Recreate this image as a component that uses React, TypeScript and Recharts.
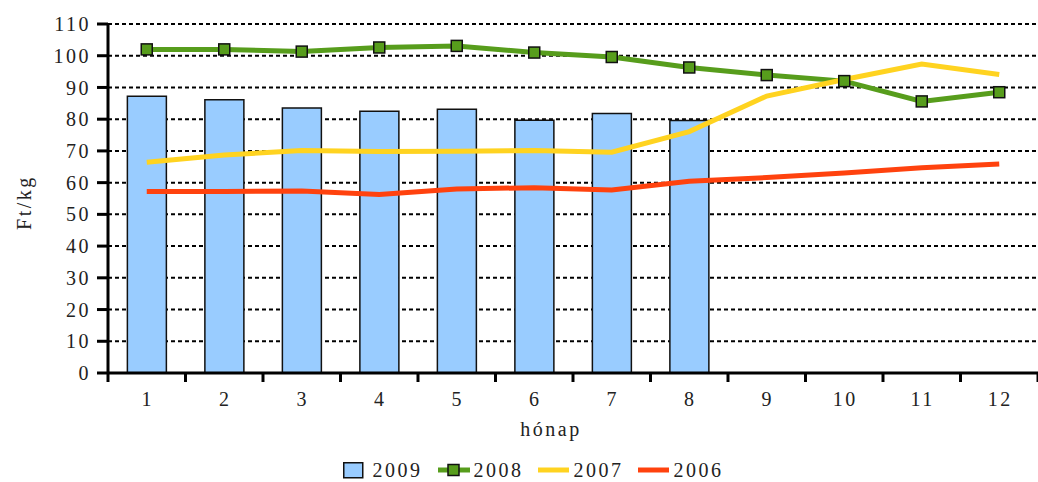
import React from 'react';
import { ComposedChart, Bar, Line, XAxis, YAxis, CartesianGrid, Legend } from 'recharts';

const months = ['1', '2', '3', '4', '5', '6', '7', '8', '9', '10', '11', '12'];
const s2009 = [87.2, 86.1, 83.5, 82.5, 83.1, 79.7, 81.8, 79.6, null, null, null, null];
const s2008 = [102.0, 102.0, 101.3, 102.6, 103.1, 101.0, 99.6, 96.3, 93.9, 92.0, 85.6, 88.5];
const s2007 = [66.4, 68.7, 70.1, 69.8, 69.9, 70.1, 69.6, 76.1, 87.3, 92.5, 97.4, 94.1];
const s2006 = [57.2, 57.2, 57.4, 56.3, 58.0, 58.4, 57.7, 60.4, 61.6, 63.0, 64.7, 65.9];
const yTicks = [0, 10, 20, 30, 40, 50, 60, 70, 80, 90, 100, 110];

const data = months.map((m, i) => ({
  m,
  y2009: s2009[i],
  y2008: s2008[i],
  y2007: s2007[i],
  y2006: s2006[i],
}));

const W = 1038;
const H = 482;
const Y_W = 108;
const PLOT_W = W - Y_W;
const BAND = PLOT_W / months.length;

const FONT = 'Liberation Serif';
const TXT = '#222';
const C_BAR = '#99CCFF';
const C_2008 = '#579D1C';
const C_2007 = '#FFD320';
const C_2006 = '#FF420E';

const XTick = (props: any) => {
  const { x, y, payload, index } = props;
  const last = index === months.length - 1;
  return (
    <g>
      <line x1={x - BAND / 2} x2={x - BAND / 2} y1={y} y2={y + 9} stroke="#000" strokeWidth={3} />
      {last && <line x1={x + BAND / 2} x2={x + BAND / 2} y1={y} y2={y + 9} stroke="#000" strokeWidth={3} />}
      <text x={x + 1} y={y + 33} textAnchor="middle" fill={TXT} fontSize={20} fontFamily={FONT} letterSpacing={2.5}>
        {payload.value}
      </text>
    </g>
  );
};

const SquareDot = (props: any) => {
  const { cx, cy, index } = props;
  if (cx == null || cy == null) return <g key={index} />;
  return <rect key={index} x={cx - 5.5} y={cy - 5.5} width={11} height={11} fill={C_2008} stroke="#111" strokeWidth={1.5} />;
};

const LegendContent = () => {
  const txt: React.CSSProperties = { fontFamily: FONT, fontSize: 20, letterSpacing: 2.5, color: TXT, lineHeight: '24px' };
  return (
    <div style={{ display: 'flex', justifyContent: 'center', alignItems: 'center', paddingLeft: 28, height: 24 }}>
      <svg width={21} height={17} style={{ marginRight: 9 }}>
        <rect x={0.75} y={0.75} width={19} height={15} fill={C_BAR} stroke="#111" strokeWidth={1.5} />
      </svg>
      <span style={{ ...txt, marginRight: 15 }}>2009</span>
      <svg width={32} height={14} style={{ marginRight: 4 }}>
        <line x1={0} x2={32} y1={7} y2={7} stroke={C_2008} strokeWidth={5} />
        <rect x={10} y={1.5} width={11} height={11} fill={C_2008} stroke="#111" strokeWidth={1.5} />
      </svg>
      <span style={{ ...txt, marginRight: 14 }}>2008</span>
      <svg width={31} height={14} style={{ marginRight: 5 }}>
        <line x1={0} x2={31} y1={7} y2={7} stroke={C_2007} strokeWidth={5} />
      </svg>
      <span style={{ ...txt, marginRight: 14 }}>2007</span>
      <svg width={31} height={14} style={{ marginRight: 5 }}>
        <line x1={0} x2={31} y1={7} y2={7} stroke={C_2006} strokeWidth={5} />
      </svg>
      <span style={{ ...txt }}>2006</span>
    </div>
  );
};

export default function App() {
  return (
    <div style={{ position: 'absolute', left: 0, top: 0, width: W, height: H, background: '#fff', fontFamily: FONT }}>
      <ComposedChart width={W} height={H} data={data} margin={{ top: 24, right: 0, left: 0, bottom: 0 }} barCategoryGap="25%">
        <CartesianGrid vertical={false} stroke="#000" strokeDasharray="4 3" strokeWidth={2} />
        <XAxis
          dataKey="m"
          height={109}
          interval={0}
          tickLine={false}
          tickSize={0}
          tickMargin={0}
          tick={<XTick />}
          axisLine={{ stroke: '#000', strokeWidth: 3 }}
          label={(p: any) => {
            const vb = p.viewBox || {};
            return (
              <text x={551} y={(vb.y ?? 373) + 63} textAnchor="middle" fill={TXT} fontSize={20} fontFamily={FONT} letterSpacing={2.5}>
                hónap
              </text>
            );
          }}
        />
        <YAxis
          width={Y_W}
          domain={[0, 110]}
          ticks={yTicks}
          interval={0}
          tickSize={11}
          tickMargin={6}
          tickLine={{ stroke: '#000', strokeWidth: 3 }}
          axisLine={{ stroke: '#000', strokeWidth: 3 }}
          tick={{ fill: TXT, fontSize: 20, fontFamily: FONT, letterSpacing: 2.5 }}
          label={(p: any) => {
            const vb = p.viewBox || {};
            const cy = (vb.y ?? 24) + (vb.height ?? 349) / 2 + 4;
            return (
              <text x={24} y={cy} transform={`rotate(-90 24 ${cy})`} textAnchor="middle" dominantBaseline="central" fill={TXT} fontSize={20} fontFamily={FONT} letterSpacing={2.5}>
                Ft/kg
              </text>
            );
          }}
        />
        <Legend layout="horizontal" verticalAlign="middle" align="center" wrapperStyle={{ top: 458, left: 0, width: W, height: 24 }} content={<LegendContent />} />
        <Bar dataKey="y2009" fill={C_BAR} stroke="#111" strokeWidth={1.5} isAnimationActive={false} />
        <Line dataKey="y2008" type="linear" stroke={C_2008} strokeWidth={5} dot={<SquareDot />} activeDot={false} isAnimationActive={false} />
        <Line dataKey="y2007" type="linear" stroke={C_2007} strokeWidth={5} dot={false} activeDot={false} isAnimationActive={false} />
        <Line dataKey="y2006" type="linear" stroke={C_2006} strokeWidth={5} dot={false} activeDot={false} isAnimationActive={false} />
      </ComposedChart>
    </div>
  );
}
